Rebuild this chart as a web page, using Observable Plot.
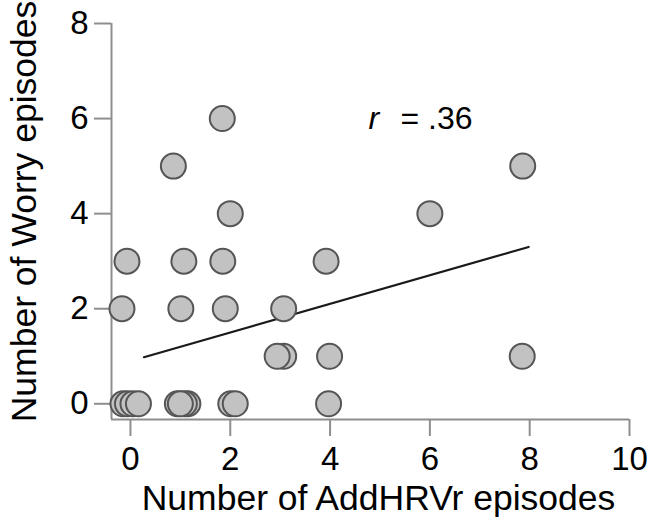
<!DOCTYPE html>
<html><head><meta charset="utf-8">
<script src="https://cdn.jsdelivr.net/npm/d3@7"></script>
<script src="https://cdn.jsdelivr.net/npm/@observablehq/plot@0.6"></script>
<style>body{margin:0;background:#fff}</style>
</head><body><div id="chart"></div>
<script>
// Number of AddHRVr episodes (x) and Number of Worry episodes (y), in drawing order
const addHRVr = [1.84, 0.86, 7.86, 2.0, 6.0, -0.07, 1.07, 1.85, 3.92, -0.17, 1.01, 1.9, 3.07,
                 3.07, 2.94, 3.99, 7.85, -0.15, -0.06, 0.05, 0.16, 1.15, 1.08, 0.94, 1.0, 2.01, 2.1, 3.97];
const worry   = [6, 5, 5, 4, 4, 3, 3, 3, 3, 2, 2, 2, 2,
                 1, 1, 1, 1, 0, 0, 0, 0, 0, 0, 0, 0, 0, 0, 0];
// Fitted regression line end points
const fitX = [0.27, 7.98];
const fitY = [0.98, 3.30];
const xTicks = [0, 2, 4, 6, 8, 10];
const yTicks = [0, 2, 4, 6, 8];
const xDomain = [-0.38, 10];
const yDomain = [-0.33, 8];
const xLabel = "Number of AddHRVr episodes";
const yLabel = "Number of Worry episodes";
const rSymbol = "r";
const rValue = "= .36";
const rPos = {x: 4.77, y: 6, xv: 5.41};

const points = addHRVr.map((x, i) => ({x, y: worry[i]}));
const fit = fitX.map((x, i) => ({x, y: fitY[i]}));
const axisGray = "#8e8e8e";
const font = "'Liberation Sans', Arial, sans-serif";

const chart = Plot.plot({
  width: 649, height: 531,
  marginLeft: 111, marginRight: 20, marginTop: 23, marginBottom: 112,
  style: {fontFamily: font, background: "#fff", color: "#000"},
  x: {domain: xDomain},
  y: {domain: yDomain},
  marks: [
    Plot.ruleX([xDomain[0]], {y1: yDomain[0], y2: yDomain[1], stroke: axisGray, strokeWidth: 2}),
    Plot.ruleY([yDomain[0]], {x1: xDomain[0], x2: xDomain[1], stroke: axisGray, strokeWidth: 2}),
    Plot.axisX({ticks: xTicks, tickSize: 17, tickPadding: 10, fontSize: 33, stroke: axisGray, strokeWidth: 2, fill: "#000", label: null}),
    Plot.axisY({ticks: yTicks, tickSize: 17, tickPadding: 6, fontSize: 33, stroke: axisGray, strokeWidth: 2, fill: "#000", label: null}),
    Plot.line(fit, {x: "x", y: "y", stroke: "#1a1a1a", strokeWidth: 2.2}),
    Plot.dot(points, {x: "x", y: "y", r: 12.5, fill: "#c2c2c2", stroke: "#555", strokeWidth: 2}),
    Plot.text([rSymbol], {x: () => rPos.x, y: () => rPos.y, text: d => d, fontStyle: "italic", textAnchor: "start", fontSize: 32, fill: "#000"}),
    Plot.text([rValue], {x: () => rPos.xv, y: () => rPos.y, text: d => d, textAnchor: "start", fontSize: 32, fill: "#000"}),
    Plot.text([xLabel], {frameAnchor: "bottom", text: d => d, textAnchor: "middle", dx: 8, dy: 90, fontSize: 35.5, fill: "#000"}),
    Plot.text([yLabel], {frameAnchor: "left", text: d => d, textAnchor: "middle", rotate: -90, dx: -87, dy: -10, fontSize: 35.5, fill: "#000"})
  ]
});
document.getElementById("chart").appendChild(chart);
</script>
</body></html>
